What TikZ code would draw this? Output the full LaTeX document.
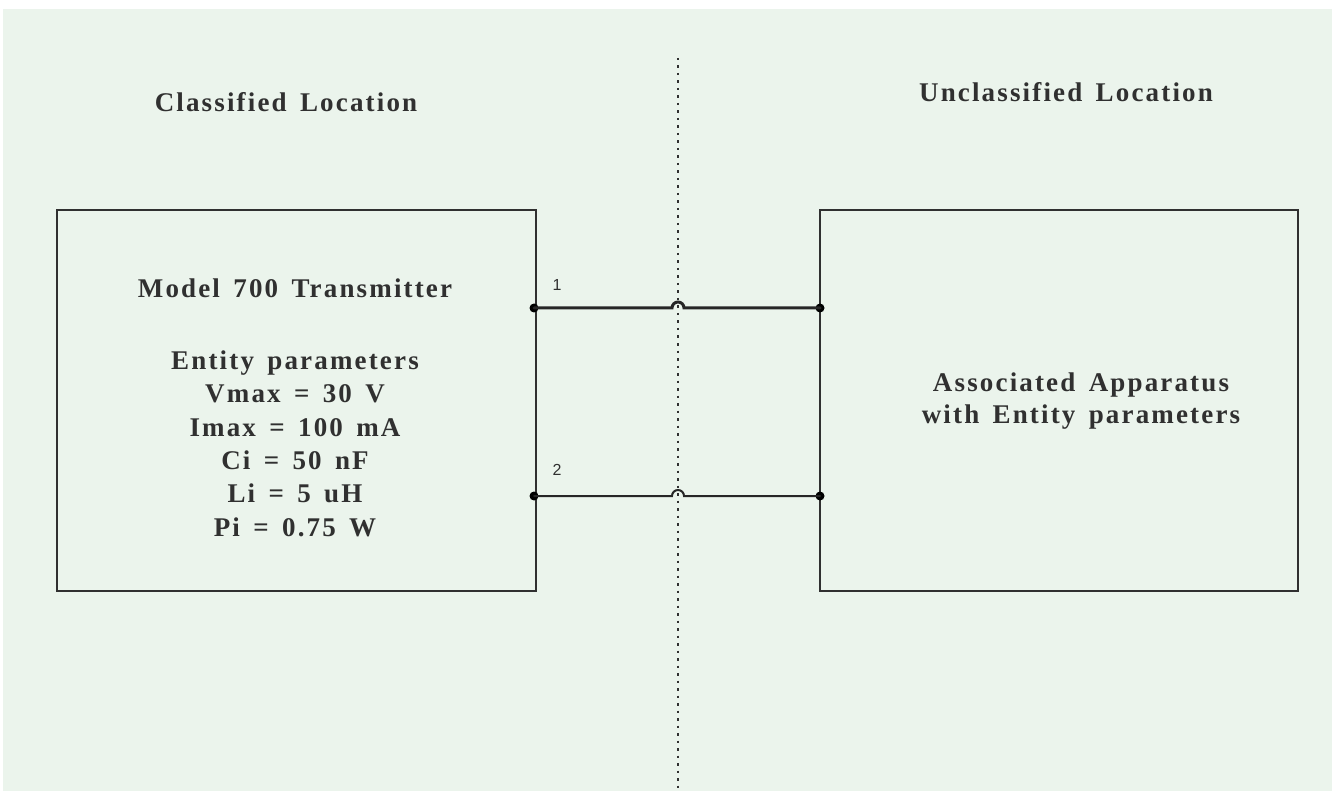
\documentclass[tikz,border=0pt]{standalone}
\usepackage{fontspec}
\setmainfont{Liberation Serif}[LetterSpace=8,WordSpace=1.5]
\setsansfont{Liberation Sans}
\definecolor{bg}{HTML}{EBF4EC}
\definecolor{ink}{HTML}{303030}
\begin{document}
\begin{tikzpicture}[x=1pt,y=-1pt,
  box/.style={draw=ink,line width=1.8pt,minimum width=#1,minimum height=381pt,inner sep=0pt},
  lbl/.style={text=ink,font=\fontsize{27}{31}\selectfont\bfseries},
  par/.style={text=ink,font=\fontsize{27}{33.4}\selectfont\bfseries,align=center},
  pin/.style={text=ink,font=\sffamily\fontsize{16}{18}\selectfont},
  dot/.style={circle,fill=black,inner sep=0pt,minimum size=9pt},
  wire/.style={draw=black!85,line cap=round}]
\useasboundingbox (0,0) rectangle (1332,791);
\fill[white] (0,0) rectangle (1332,791);
\fill[bg] (3,9) rectangle (1332,791);
% divider
\coordinate (dtop) at (678,58);
\coordinate (dbot) at (678,791);
\draw[ink,line width=2.2pt,dash pattern=on 2.5pt off 5pt] (dtop) -- (dbot);
% titles
\node[lbl] (cl) at (286,102) {Classified Location};
\node[lbl] (ucl) at (1066,92) {Unclassified Location};
% boxes
\node[box=479pt] (L) at (296.5,400.5) {};
\node[box=478pt] (R) at (1059,400.5) {};
\node[par] (model) at (295,288) {Model 700 Transmitter};
\node[par,anchor=north] (ent) at (295,347) {Entity parameters\\Vmax = 30 V\\Imax = 100 mA\\Ci = 50 nF\\Li = 5 uH\\Pi = 0.75 W};
\node[par,font=\fontsize{27}{32}\selectfont\bfseries] (assoc) at (1081,401) {Associated Apparatus\\with Entity parameters};
% terminals
\node[dot] (a1) at (534,308) {};
\node[dot] (b1) at (820,308) {};
\node[dot] (a2) at (534,496) {};
\node[dot] (b2) at (820,496) {};
\node[pin] (n1) at (557,285) {1};
\node[pin] (n2) at (557,470) {2};
% wires with hops
\draw[wire,line width=3pt] (a1.center) -- (672,308) arc[start angle=180,end angle=0,radius=6pt] -- (b1.center);
\draw[wire,line width=2pt] (a2.center) -- (672,496) arc[start angle=180,end angle=0,radius=6pt] -- (b2.center);
\end{tikzpicture}
\end{document}
